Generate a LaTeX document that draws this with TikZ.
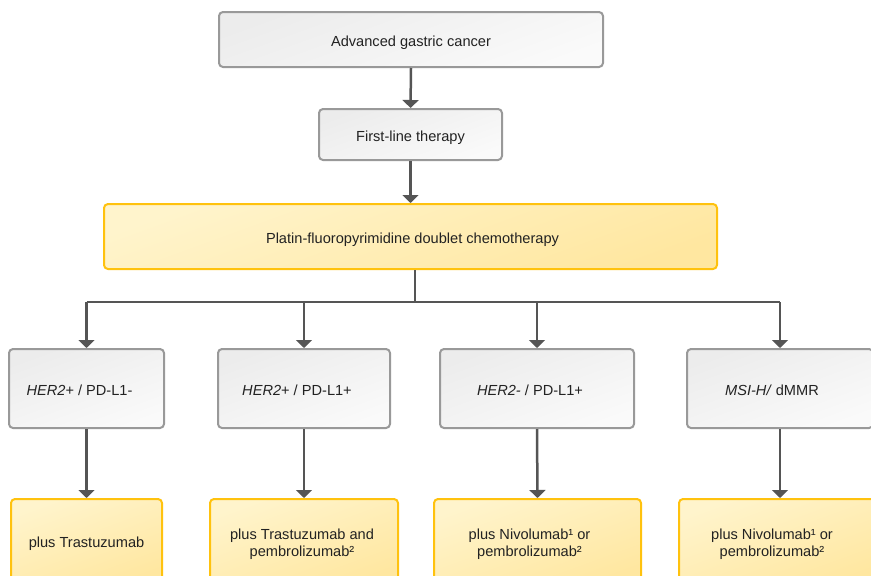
\documentclass[tikz,border=0pt]{standalone}
\usepackage{fontspec}
\setmainfont{Liberation Sans}
\usetikzlibrary{arrows.meta}
\definecolor{txt}{HTML}{222222}
\definecolor{grayline}{HTML}{999999}
\definecolor{yelline}{HTML}{FFC20E}
\definecolor{conn}{HTML}{555555}
\tikzset{
  base/.style={rectangle, rounded corners=4pt, line width=2pt, inner sep=0pt},
  graybox/.style={base, draw=grayline, top color={rgb,255:red,236;green,236;blue,236}, bottom color={rgb,255:red,250;green,250;blue,250}, shading angle=20},
  yelbox/.style={base, draw=yelline, top color={rgb,255:red,255;green,244;blue,204}, bottom color={rgb,255:red,255;green,231;blue,160}, shading angle=20},
  lbl/.style={font=\fontsize{14.6}{16.5}\selectfont, text=txt, align=center, inner sep=0pt, yshift=-3pt},
  conn/.style={draw=conn, line width=2.5pt},
  arr/.style={conn, -{Triangle[width=16pt,length=8pt]}}
}
\begin{document}
\begin{tikzpicture}[x=1pt,y=-1pt]
\useasboundingbox (0,0) rectangle (871,576);
\clip (0,0) rectangle (871,576);
\fill[white] (0,0) rectangle (871,576);
% top boxes
\node[graybox, minimum width=384pt, minimum height=55pt] (top) at (411,39.5) {};
\node[graybox, minimum width=183pt, minimum height=51pt] (first) at (410.5,134.5) {};
\node[yelbox, minimum width=613pt, minimum height=65pt] (platin) at (410.5,236.5) {};
\node[lbl] (topt) at (top.center) {Advanced gastric cancer};
\node[lbl] (firstt) at (first.center) {First-line therapy};
\node[lbl, xshift=2pt] (platint) at (platin.center) {Platin-fluoropyrimidine doublet chemotherapy};
% row 2
\node[graybox, minimum width=155pt, minimum height=79pt] (b1) at (86.5,388.5) {};
\node[graybox, minimum width=172pt, minimum height=79pt] (b2) at (304,388.5) {};
\node[graybox, minimum width=194pt, minimum height=79pt] (b3) at (537,388.5) {};
\node[graybox, minimum width=186pt, minimum height=79pt] (b4) at (780,388.5) {};
\node[lbl, xshift=-7pt, yshift=1pt] (b1t) at (b1.center) {\textit{HER2}+ / PD-L1-};
\node[lbl, xshift=-7pt, yshift=1pt] (b2t) at (b2.center) {\textit{HER2}+ / PD-L1+};
\node[lbl, xshift=-7pt, yshift=1pt] (b3t) at (b3.center) {\textit{HER2-} / PD-L1+};
\node[lbl, xshift=-8pt, yshift=1pt] (b4t) at (b4.center) {\textit{MSI-H/} dMMR};
% row 3
\node[yelbox, minimum width=151pt, minimum height=86pt] (c1) at (86.5,542) {};
\node[yelbox, minimum width=188pt, minimum height=86pt] (c2) at (304,542) {};
\node[yelbox, minimum width=207pt, minimum height=86pt] (c3) at (537.5,542) {};
\node[yelbox, minimum width=202pt, minimum height=86pt] (c4) at (780,542) {};
\node[lbl, yshift=1pt] (c1t) at (c1.center) {plus Trastuzumab};
\node[lbl, xshift=-2pt, yshift=1pt] (c2t) at (c2.center) {plus Trastuzumab and\\pembrolizumab²};
\node[lbl, xshift=-8pt, yshift=1pt] (c3t) at (c3.center) {plus Nivolumab¹ or\\pembrolizumab²};
\node[lbl, xshift=-8pt, yshift=1pt] (c4t) at (c4.center) {plus Nivolumab¹ or\\pembrolizumab²};
% connectors
\draw[arr] (top.south) -- (first.north);
\draw[arr] (first.south) -- (platin.north);
\coordinate (bus) at (415,302);
\draw[conn] (platin.south -| bus) -- (bus);
\draw[conn] (b1.north |- bus) -- (b4.north |- bus);
\draw[arr] (b1.north |- bus) -- (b1.north);
\draw[arr] (b2.north |- bus) -- (b2.north);
\draw[arr] (b3.north |- bus) -- (b3.north);
\draw[arr] (b4.north |- bus) -- (b4.north);
\draw[arr] (b1.south) -- (c1.north);
\draw[arr] (b2.south) -- (c2.north);
\draw[arr] (b3.south) -- (c3.north);
\draw[arr] (b4.south) -- (c4.north);
\end{tikzpicture}
\end{document}
